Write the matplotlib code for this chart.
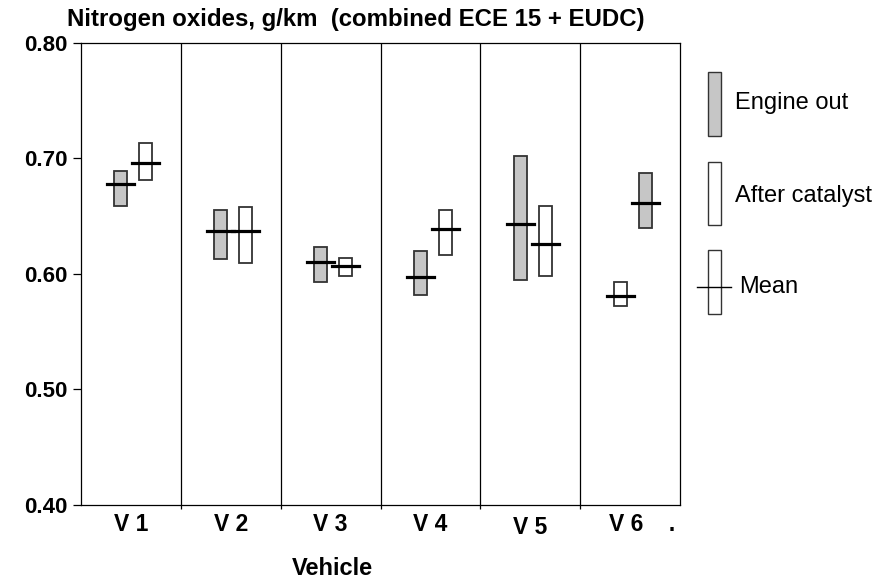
import matplotlib
matplotlib.use('Agg')
import matplotlib.pyplot as plt
from matplotlib.patches import Rectangle
from matplotlib.lines import Line2D

plt.rcParams['font.family'] = ['Liberation Sans', 'DejaVu Sans']

vehicles = ['V 1', 'V 2', 'V 3', 'V 4', 'V 5', 'V 6    .']

# engine out: low, high, mean
engine_low = [0.659, 0.613, 0.593, 0.582, 0.595, 0.640]
engine_high = [0.689, 0.655, 0.623, 0.620, 0.702, 0.687]
engine_mean = [0.678, 0.637, 0.610, 0.597, 0.643, 0.661]

# after catalyst: low, high, mean
cat_low = [0.681, 0.609, 0.598, 0.616, 0.598, 0.572]
cat_high = [0.713, 0.658, 0.614, 0.655, 0.659, 0.593]
cat_mean = [0.696, 0.637, 0.607, 0.639, 0.626, 0.581]

# which bar sits on the left in each group (V6 is drawn the other way round)
engine_first = [True, True, True, True, True, False]

yticks = [0.40, 0.50, 0.60, 0.70, 0.80]

fig = plt.figure(figsize=(8.8, 5.85), dpi=100)
ax = fig.add_axes([0.092, 0.137, 0.681, 0.790])

box_w = 0.13
mean_w = 0.27
for i in range(len(vehicles)):
    if engine_first[i]:
        xe, xc = i + 0.40, i + 0.65
    else:
        xe, xc = i + 0.65, i + 0.40
    ax.bar(xe, engine_high[i] - engine_low[i], bottom=engine_low[i], width=box_w,
           facecolor='#c6c6c6', edgecolor='#333333', linewidth=1.3, zorder=2)
    ax.bar(xc, cat_high[i] - cat_low[i], bottom=cat_low[i], width=box_w,
           facecolor='white', edgecolor='#333333', linewidth=1.3, zorder=2)
    ax.plot([xe - mean_w / 2, xe + mean_w / 2], [engine_mean[i]] * 2, color='black', lw=2.3, zorder=3)
    ax.plot([xc - mean_w / 2, xc + mean_w / 2], [cat_mean[i]] * 2, color='black', lw=2.3, zorder=3)

for k in range(1, len(vehicles)):
    ax.axvline(k, color='black', lw=0.9, zorder=1)

ax.set_xlim(0, len(vehicles))
ax.set_ylim(0.40, 0.80)
ax.set_yticks(yticks)
ax.set_yticklabels(['%.2f' % v for v in yticks], fontsize=16, fontweight='bold')
ax.set_xticks(range(1, len(vehicles)))
ax.set_xticklabels([])
ax.tick_params(axis='y', direction='out', length=6, width=0.9)
ax.tick_params(axis='x', direction='out', length=3, width=0.9)
for s in ax.spines.values():
    s.set_linewidth(0.9)

for i, lab in enumerate(vehicles):
    dy = -0.050 if i == 4 else -0.043
    dx = 0.12 if i == 5 else 0.0
    ax.text(i + 0.5 + dx, dy, lab, transform=ax.get_xaxis_transform(), ha='center', va='center',
            fontsize=16.5, fontweight='bold')

fig.text(0.378, 0.029, 'Vehicle', ha='center', va='center', fontsize=17, fontweight='bold')
fig.text(0.076, 0.966, 'Nitrogen oxides, g/km  (combined ECE 15 + EUDC)', ha='left', va='center',
         fontsize=17.3, fontweight='bold')

# legend drawn by hand
fig.add_artist(Rectangle((0.8045, 0.7675), 0.0148, 0.1095, transform=fig.transFigure,
                         facecolor='#c6c6c6', edgecolor='#333333', lw=1))
fig.add_artist(Rectangle((0.8045, 0.6154), 0.0148, 0.1082, transform=fig.transFigure,
                         facecolor='white', edgecolor='#333333', lw=1))
fig.add_artist(Rectangle((0.8045, 0.4632), 0.0148, 0.1094, transform=fig.transFigure,
                         facecolor='white', edgecolor='#333333', lw=1))
fig.add_artist(Line2D([0.792, 0.8307], [0.5094, 0.5094], transform=fig.transFigure, color='black', lw=1))
fig.text(0.835, 0.824, 'Engine out', ha='left', va='center', fontsize=17)
fig.text(0.835, 0.665, 'After catalyst', ha='left', va='center', fontsize=17)
fig.text(0.840, 0.5094, 'Mean', ha='left', va='center', fontsize=17)

fig.savefig('out.png', dpi=100)
